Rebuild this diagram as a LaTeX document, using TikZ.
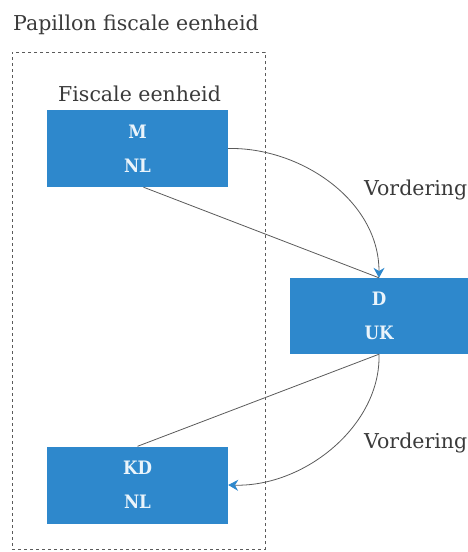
\documentclass[tikz,border=0pt]{standalone}
\usepackage{fontspec}
\setmainfont{DejaVu Serif}
\newfontfamily\boxfont{DejaVu Serif Condensed}
\usetikzlibrary{arrows.meta}
\definecolor{boxblue}{HTML}{2E88CC}
\definecolor{boxtext}{HTML}{EAF4FB}
\definecolor{txtgrey}{HTML}{3A3A3A}
\definecolor{linegrey}{HTML}{5A5A5A}
\begin{document}
\begin{tikzpicture}[x=1pt,y=-1pt,
  bluebox/.style={fill=boxblue,draw=none,minimum width=181pt,minimum height=77pt,inner sep=0pt,
    text=boxtext,font=\boxfont\bfseries\fontsize{18.5}{34}\selectfont,align=center},
  label/.style={text=txtgrey,inner sep=0pt,font=\fontsize{20.5}{24}\selectfont},
  conn/.style={draw=linegrey,line width=0.8pt},
  tip/.style={-{Stealth[length=10pt,width=11pt,color=boxblue,fill=boxblue]}}]
\useasboundingbox (0,0) rectangle (468,552);
\node[label,anchor=west] (title) at (13,25) {Papillon fiscale eenheid};
\node[draw=linegrey,dashed,line width=0.6pt,minimum width=253pt,minimum height=497pt,inner sep=0pt] (outer) at (138.5,300.5) {};
\node[label,anchor=west] (fe) at (58,94) {Fiscale eenheid};
\node[bluebox] (M) at (137.5,148.5) {M\\NL};
\node[bluebox,minimum width=178pt,minimum height=76pt] (D) at (379,316) {D\\UK};
\node[bluebox] (KD) at (137.5,485) {KD\\NL};
\node[label,anchor=west] (v1) at (364,190) {Vordering};
\node[label,anchor=west] (v2) at (364,443) {Vordering};
\draw[conn,tip] (M.east) .. controls (300,147) and (379,200) .. (D.north);
\draw[conn] ([xshift=6pt]M.south) -- (D.north);
\draw[conn] (D.south) -- (KD.north);
\draw[conn,tip] (D.south) .. controls (381,425) and (305,487) .. (KD.east);
\end{tikzpicture}
\end{document}
